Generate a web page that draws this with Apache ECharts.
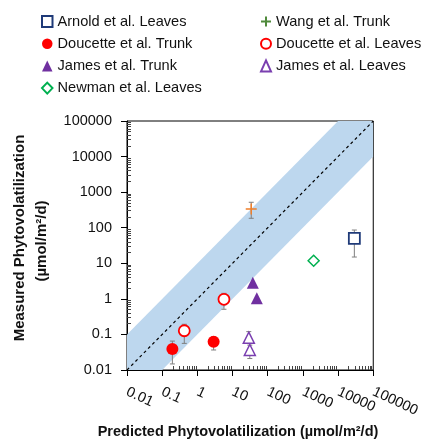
<!DOCTYPE html>
<html>
<head>
<meta charset="utf-8">
<script src="https://cdn.jsdelivr.net/npm/echarts@6/dist/echarts.min.js"></script>
<style>
html,body{margin:0;padding:0;background:#fff;}
#chart{width:423px;height:442px;}
</style>
</head>
<body>
<div id="chart"></div>
<script>
// ---- data ----
const tickValues = [0.01, 0.1, 1, 10, 100, 1000, 10000, 100000];
const tickLabels = ["0.01", "0.1", "1", "10", "100", "1000", "10000", "100000"];
const minorMultipliers = [2, 3, 4, 5, 6, 7, 8, 9];

const bandEnds = [0.01, 100000];
const bandFactor = 10;

const arnoldLeaves = [[29000, 50]];
const arnoldLeavesErr = [[29000, 15, 86]];
const wangTrunk = [[34, 336]];
const wangTrunkErr = [[34, 184, 519]];
const doucetteTrunk = [[0.195, 0.039], [2.9, 0.062]];
const doucetteTrunkErr = [[0.195, 0.0148, 0.065], [2.9, 0.0365, 0.086]];
const doucetteLeaves = [[0.425, 0.127], [5.7, 0.97]];
const doucetteLeavesErr = [[0.425, 0.056, 0.193], [5.7, 0.51, 1.43]];
const jamesTrunk = [[37.7, 2.85], [49, 1.04]];
const jamesLeaves = [[29, 0.081], [31, 0.0365]];
const jamesLeavesErr = [[29, 0.06, 0.12], [31, 0.021, 0.05]];
const newmanLeaves = [[2020, 11.8]];

const legendLeft = ["Arnold et al. Leaves", "Doucette et al. Trunk", "James et al. Trunk", "Newman et al. Leaves"];
const legendRight = ["Wang et al. Trunk", "Doucette et al. Leaves", "James et al. Leaves"];

// ---- chart ----
const FONT = '"Liberation Sans", Arial, sans-serif';
const minorValues = [];
for (let i = 0; i < tickValues.length - 1; i++) {
  for (const m of minorMultipliers) minorValues.push(+(tickValues[i] * m).toPrecision(6));
}
const labelMap = {};
tickValues.forEach((v, i) => { labelMap[Math.round(Math.log10(v))] = tickLabels[i]; });
function fmt(v) { return labelMap[Math.round(Math.log10(v))] || ''; }

function errRender(params, api) {
  const x = api.value(0);
  const lo = api.coord([x, api.value(1)]);
  const hi = api.coord([x, api.value(2)]);
  const w = 2.5;
  const st = { stroke: '#7f7f7f', lineWidth: 1 };
  return {
    type: 'group',
    children: [
      { type: 'line', shape: { x1: lo[0], y1: lo[1], x2: hi[0], y2: hi[1] }, style: st },
      { type: 'line', shape: { x1: lo[0] - w, y1: lo[1], x2: lo[0] + w, y2: lo[1] }, style: st },
      { type: 'line', shape: { x1: hi[0] - w, y1: hi[1], x2: hi[0] + w, y2: hi[1] }, style: st }
    ]
  };
}
function errSeries(data) {
  return { type: 'custom', renderItem: errRender, data: data, z: 3, silent: true,
           encode: { x: 0, y: [1, 2] } };
}

const crossPath = 'path://M0,5L10,5M5,0L5,10';

const legendText = { fontSize: 14.6, lineHeight: 17, color: '#111', fontFamily: FONT };

const option = {
  animation: false,
  backgroundColor: '#fff',
  textStyle: { fontFamily: FONT },
  grid: { left: 127, right: 48, top: 121, bottom: 72, show: true, borderColor: '#000', borderWidth: 1, containLabel: false },
  legend: [
    { orient: 'vertical', left: 41, top: 13, padding: 0, itemWidth: 10.5, itemHeight: 11, itemGap: 5.2,
      textStyle: legendText, data: legendLeft, selectedMode: false },
    { orient: 'vertical', left: 260, top: 13, padding: 0, itemWidth: 10, itemHeight: 11, itemGap: 5.2,
      textStyle: legendText,
      data: [
        { name: legendRight[0], itemStyle: { borderColor: '#4f8a3b' } },
        legendRight[1], legendRight[2]
      ], selectedMode: false }
  ],
  xAxis: [
    { type: 'log', logBase: 10, min: tickValues[0], max: tickValues[tickValues.length - 1], position: 'bottom',
      axisLine: { lineStyle: { color: '#000', width: 1 } },
      axisTick: { show: true, length: 6, lineStyle: { color: '#000' } },
      axisLabel: { rotate: -25, margin: 21, fontSize: 14.5, color: '#111', fontFamily: FONT, formatter: fmt,
                   showMinLabel: true, showMaxLabel: true, hideOverlap: false },
      splitLine: { show: false }, minorTick: { show: false } },
    { type: 'log', logBase: 10, min: tickValues[0], max: tickValues[tickValues.length - 1], position: 'bottom',
      axisLine: { show: false },
      axisTick: { show: true, inside: true, length: 4, customValues: minorValues, lineStyle: { color: '#444' } },
      axisLabel: { show: false }, splitLine: { show: false } }
  ],
  yAxis: [
    { type: 'log', logBase: 10, min: tickValues[0], max: tickValues[tickValues.length - 1], position: 'left',
      axisLine: { show: true, lineStyle: { color: '#000', width: 1 } },
      axisTick: { show: true, length: 6, lineStyle: { color: '#000' } },
      axisLabel: { margin: 15, fontSize: 14.5, color: '#111', fontFamily: FONT, formatter: fmt,
                   showMinLabel: true, showMaxLabel: true },
      splitLine: { show: false }, minorTick: { show: false } },
    { type: 'log', logBase: 10, min: tickValues[0], max: tickValues[tickValues.length - 1], position: 'left',
      axisLine: { show: false },
      axisTick: { show: true, inside: true, length: 4, customValues: minorValues, lineStyle: { color: '#444' } },
      axisLabel: { show: false }, splitLine: { show: false } }
  ],
  graphic: [
    { type: 'text', x: 20, y: 238, rotation: Math.PI / 2,
      style: { text: 'Measured Phytovolatilization', font: 'bold 15px ' + FONT, fill: '#111',
               textAlign: 'center', textVerticalAlign: 'middle' } },
    { type: 'text', x: 42, y: 241, rotation: Math.PI / 2,
      style: { text: '(µmol/m²/d)', font: 'bold 15px ' + FONT, fill: '#111',
               textAlign: 'center', textVerticalAlign: 'middle' } },
    { type: 'text', x: 238, y: 432,
      style: { text: 'Predicted Phytovolatilization (µmol/m²/d)', font: 'bold 14.5px ' + FONT, fill: '#111',
               textAlign: 'center', textVerticalAlign: 'middle' } }
  ],
  series: [
    { type: 'custom', name: 'band', silent: true, z: 1, data: [[1, 1]],
      renderItem: function (params, api) {
        const a = bandEnds[0], b = bandEnds[1];
        const pts = [
          api.coord([a, a * bandFactor]),
          api.coord([b, b * bandFactor]),
          api.coord([b, b / bandFactor]),
          api.coord([a, a / bandFactor])
        ];
        const cs = params.coordSys;
        return { type: 'polygon', shape: { points: pts }, style: { fill: '#bdd7ee' },
                 clipPath: { type: 'rect', shape: { x: cs.x, y: cs.y, width: cs.width, height: cs.height } } };
      } },
    { type: 'line', name: '1:1', data: [[bandEnds[0], bandEnds[0]], [bandEnds[1], bandEnds[1]]], z: 2,
      symbol: 'none', silent: true, lineStyle: { color: '#000', width: 1.2, type: [3, 3] } },
    errSeries(arnoldLeavesErr),
    errSeries(wangTrunkErr),
    errSeries(doucetteTrunkErr),
    errSeries(doucetteLeavesErr),
    errSeries(jamesLeavesErr),
    { type: 'scatter', name: legendLeft[0], data: arnoldLeaves, z: 5, symbol: 'rect', symbolSize: 11,
      itemStyle: { color: '#fff', borderColor: '#1f3a78', borderWidth: 1.8, opacity: 1 } },
    { type: 'scatter', name: legendLeft[1], data: doucetteTrunk, z: 5, symbol: 'circle', symbolSize: 12,
      itemStyle: { color: '#ff0000', opacity: 1 } },
    { type: 'scatter', name: legendLeft[2], data: jamesTrunk, z: 5, symbol: 'triangle', symbolSize: 12,
      itemStyle: { color: '#7030a0', opacity: 1 } },
    { type: 'scatter', name: legendLeft[3], data: newmanLeaves, z: 5, symbol: 'diamond', symbolSize: 11,
      itemStyle: { color: '#fff', borderColor: '#00b050', borderWidth: 1.5, opacity: 1 } },
    { type: 'scatter', name: legendRight[0], data: wangTrunk, z: 5, symbol: crossPath, symbolSize: 11,
      itemStyle: { color: 'rgba(0,0,0,0)', borderColor: '#f07f2a', borderWidth: 1.5, opacity: 1 } },
    { type: 'scatter', name: legendRight[1], data: doucetteLeaves, z: 5, symbol: 'circle', symbolSize: 11,
      itemStyle: { color: '#fff', borderColor: '#ff0000', borderWidth: 1.8, opacity: 1 } },
    { type: 'scatter', name: legendRight[2], data: jamesLeaves, z: 5, symbol: 'triangle', symbolSize: 11,
      itemStyle: { color: '#fff', borderColor: '#7a3fb0', borderWidth: 1.5, opacity: 1 } }
  ]
};
const chart = echarts.init(document.getElementById('chart'), null, { renderer: 'canvas' });
chart.setOption(option);
</script>
</body>
</html>
